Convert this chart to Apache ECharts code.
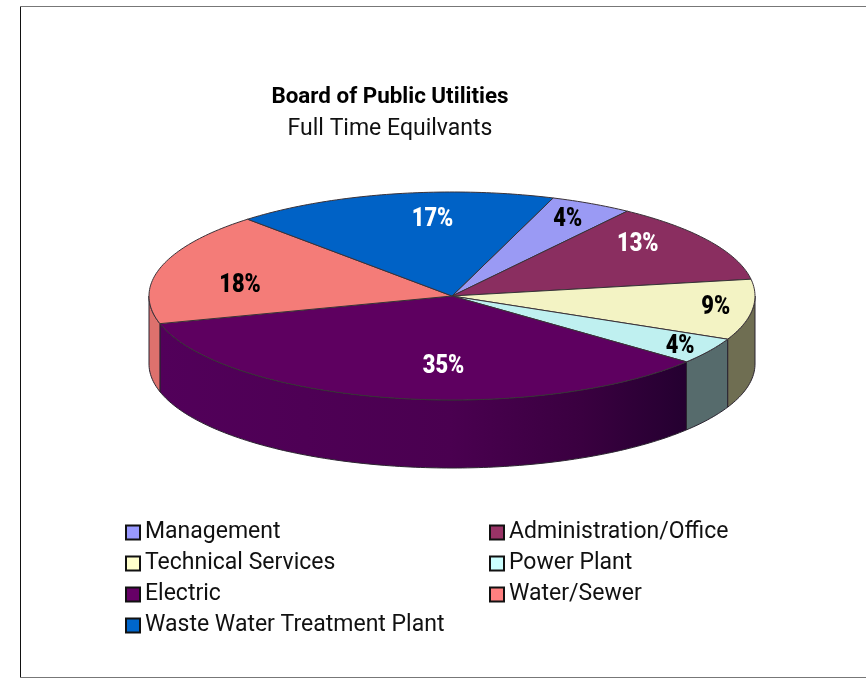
<!DOCTYPE html>
<html>
<head>
<meta charset="utf-8">
<style>html,body{margin:0;padding:0;background:#fff}#c{width:866px;height:678px}</style>
<script src="https://cdn.jsdelivr.net/npm/echarts@6/dist/echarts.min.js"></script>
</head>
<body>
<div id="c"></div>
<script>
// Data, clockwise from the Management slice (shares)
const categories = ['Management','Administration/Office','Technical Services','Power Plant','Electric','Water/Sewer','Waste Water Treatment Plant'];
const shares = [4.4,12.6,9.4,4.1,34.8,17.5,17.2];

// Colours
const legendColors = ['#9999ff','#993366','#ffffcc','#ccffff','#660066','#ff8080','#0066cc'];
const topColors = ['#9a9af4','#8a2e60','#f3f3c4','#bff0f0','#5e0060','#f47c78','#0062c6'];
const sideColors = ['#55558a','#4a1d36','#6f6e52','#566b6c',null,'#de716d','#003a72'];
const labelColors = ['#000','#fff','#000','#000','#fff','#000','#fff'];

// Pie projection (layout)
const cx = 452, cy = 296, rx = 303, ry = 104, depth = 68, startDeg = 19.5;
const labelRadius = [.85,.80,.875,.885,.66,.71,.76];
const labelTurn = [-.7,-8,-1.6,-.2,-9.5,-6.3,6.6];

const total = shares.reduce((a,b)=>a+b,0);
const rad = d => d*Math.PI/180;
const px = d => cx + rx*Math.sin(rad(d));
const py = d => cy - ry*Math.cos(rad(d));

function arc(a,b){ const pts=[]; const n=Math.max(2,Math.ceil(Math.abs(b-a)));
  for(let i=0;i<=n;i++){const d=a+(b-a)*i/n; pts.push([px(d),py(d)]);} return pts; }

function makeRender(idx){
  return function(params, api){
    const v = api.value(0);
    let before = 0; for(let i=0;i<idx;i++) before += shares[i];
    const a = startDeg + before/total*360, b = a + v/total*360;
    const children = [];
    // visible front wall: the part of the slice between 90 and 270 deg
    const sa = Math.max(a,90), sb = Math.min(b,270);
    if (sb > sa) {
      const top = arc(sa,sb), bottom = top.map(p=>[p[0],p[1]+depth]).reverse();
      const fill = sideColors[idx] || {type:'linear',x:0,y:0,x2:1,y2:0,colorStops:[
        {offset:0,color:'#52005a'},{offset:.55,color:'#4a0050'},{offset:.8,color:'#3a0040'},{offset:1,color:'#240030'}]};
      children.push({type:'polygon',z2:1,shape:{points:top.concat(bottom)},
        style:{fill:fill,stroke:'#2b2430',lineWidth:1}});
    }
    // top face
    children.push({type:'polygon',z2:2,shape:{points:[[cx,cy]].concat(arc(a,b))},
      style:{fill:topColors[idx],stroke:'#3a3238',lineWidth:1}});
    // percent label
    const m = (a+b)/2 + labelTurn[idx], r = labelRadius[idx];
    children.push({type:'text',z2:3,x:cx+r*rx*Math.sin(rad(m)),y:cy-r*ry*Math.cos(rad(m))+2,scaleX:.84,
      style:{text:Math.round(v/total*100)+'%',fill:labelColors[idx],font:'900 26px Roboto',textAlign:'center',textVerticalAlign:'middle'}});
    return {type:'group',children};
  };
}

const series = categories.map((name,i)=>({
  type:'custom',name,coordinateSystem:'none',silent:true,clip:false,
  itemStyle:{color:legendColors[i]},
  data:[[shares[i]]],
  renderItem:makeRender(i)
}));

const legendBase = {orient:'vertical',icon:'rect',itemWidth:14,itemHeight:14,itemGap:8,itemTextGap:8,
  selectedMode:false,padding:0,itemStyle:{borderColor:'#111',borderWidth:2},
  textStyle:{fontFamily:'Roboto',fontSize:23,color:'#111'}};

const chart = echarts.init(document.getElementById('c'),null,{renderer:'canvas'});
chart.setOption({
  animation:false,
  backgroundColor:'#fff',
  title:{text:'Board of Public Utilities',subtext:'Full Time Equilvants',left:390,top:86,textAlign:'center',padding:0,itemGap:10,
    textStyle:{fontFamily:'Roboto',fontWeight:'bold',fontSize:22.4,color:'#000'},
    subtextStyle:{fontFamily:'Roboto',fontSize:23,color:'#111'}},
  legend:[
    Object.assign({},legendBase,{left:125,top:521,data:[categories[0],categories[2],categories[4],categories[6]]}),
    Object.assign({},legendBase,{left:489,top:521,data:[categories[1],categories[3],categories[5]]})
  ],
  graphic:[
    {type:'line',shape:{x1:20.5,y1:6,x2:20.5,y2:678},style:{stroke:'#111',lineWidth:1}},
    {type:'line',shape:{x1:20,y1:6.5,x2:866,y2:6.5},style:{stroke:'#777',lineWidth:1}},
    {type:'line',shape:{x1:20,y1:677.5,x2:866,y2:677.5},style:{stroke:'#777',lineWidth:1}}
  ],
  series
});
</script>
</body>
</html>
